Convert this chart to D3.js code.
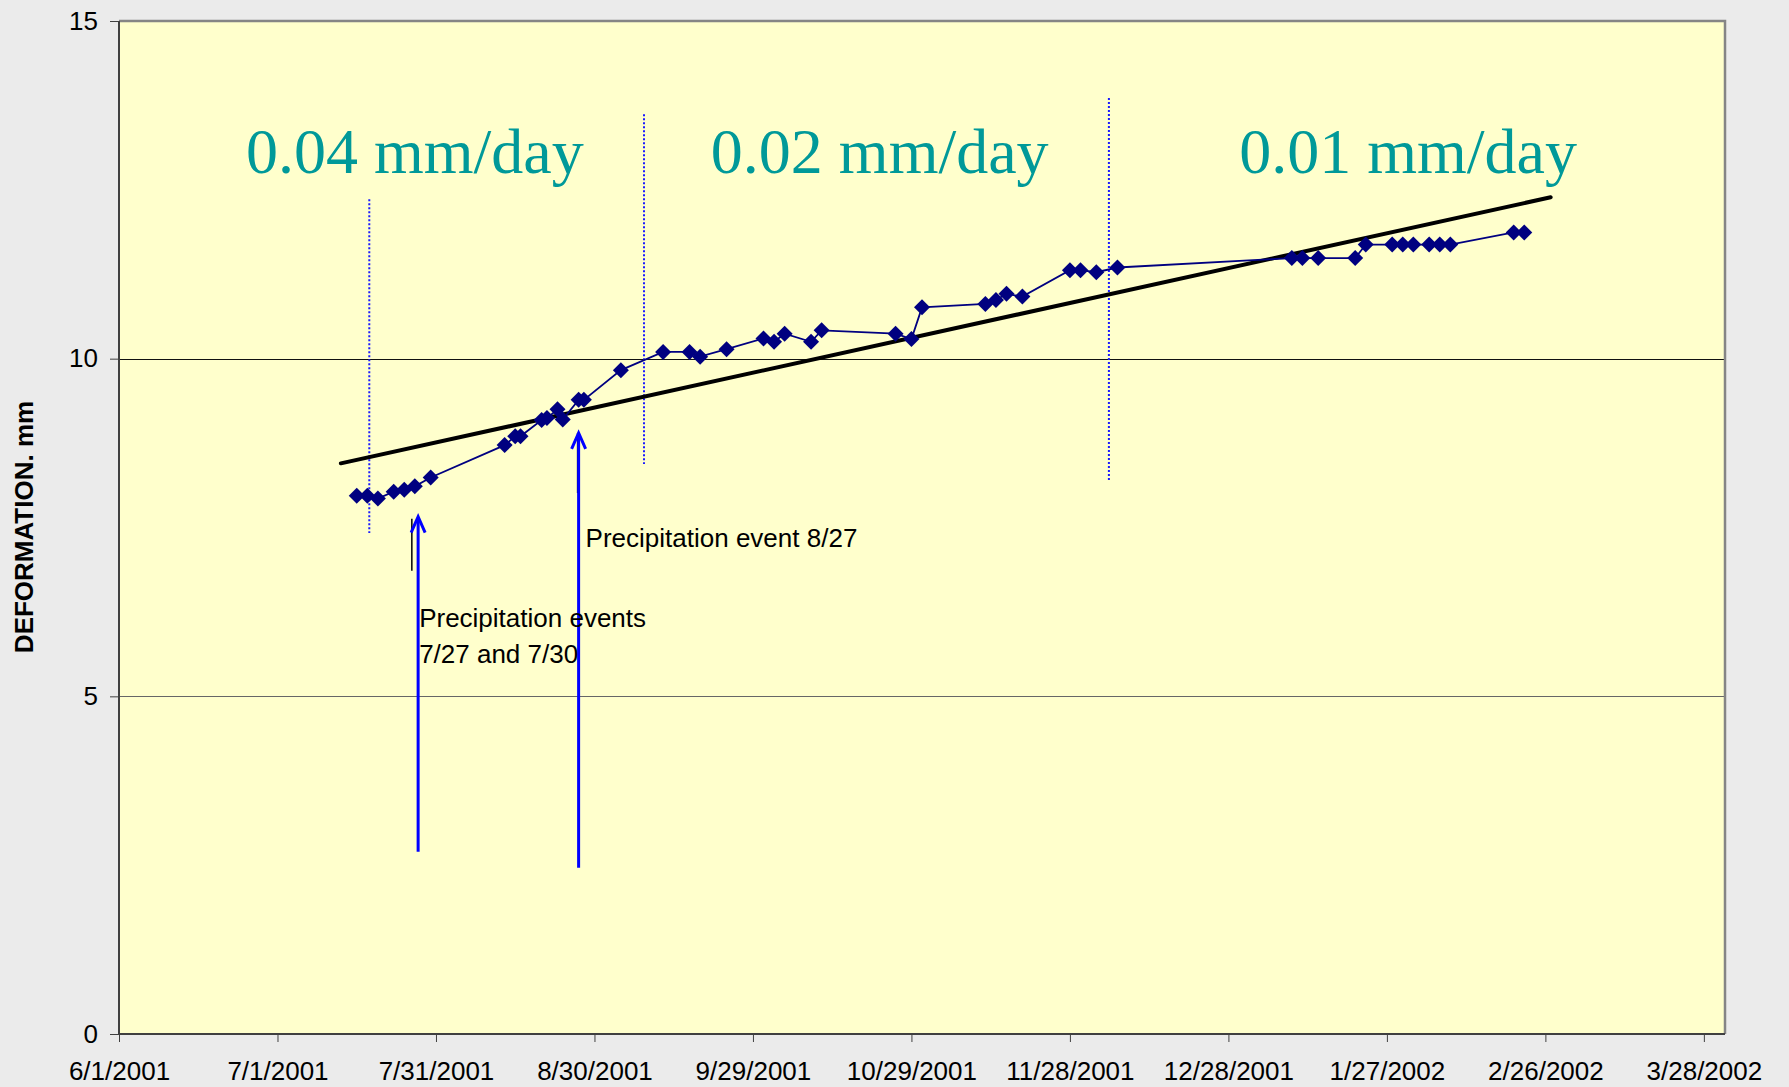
<!DOCTYPE html>
<html>
<head>
<meta charset="utf-8">
<script src="https://cdn.jsdelivr.net/npm/d3@7"></script>
<style>
  html, body { margin: 0; padding: 0; background: #ebebeb; }
  svg { display: block; }
  .tick text { font-family: "Liberation Sans", Arial, sans-serif; font-size: 26px; fill: #000; }
  .tick line { stroke: #404040; }
</style>
</head>
<body>
<svg width="1789" height="1087"></svg>
<script>
// Deformation readings
const dates = [
  "7/16/2001", "7/18/2001", "7/20/2001", "7/23/2001", "7/25/2001", "7/27/2001", "7/30/2001",
  "8/13/2001", "8/15/2001", "8/16/2001", "8/20/2001", "8/21/2001", "8/23/2001", "8/24/2001",
  "8/27/2001", "8/28/2001", "9/4/2001", "9/12/2001", "9/17/2001", "9/19/2001", "9/24/2001",
  "10/1/2001", "10/3/2001", "10/5/2001", "10/10/2001", "10/12/2001", "10/26/2001", "10/29/2001",
  "10/31/2001", "11/12/2001", "11/14/2001", "11/16/2001", "11/19/2001", "11/28/2001", "11/30/2001",
  "12/3/2001", "12/7/2001", "1/9/2002", "1/11/2002", "1/14/2002", "1/21/2002", "1/23/2002",
  "1/28/2002", "1/30/2002", "2/1/2002", "2/4/2002", "2/6/2002", "2/8/2002", "2/20/2002", "2/22/2002"
];
const values = [
  7.97, 7.97, 7.93, 8.03, 8.06, 8.11, 8.24,
  8.72, 8.85, 8.85, 9.09, 9.12, 9.25, 9.10,
  9.39, 9.39, 9.83, 10.10, 10.10, 10.03, 10.14,
  10.30, 10.25, 10.37, 10.25, 10.42, 10.37, 10.29,
  10.76, 10.81, 10.87, 10.96, 10.92, 11.31, 11.31,
  11.28, 11.35, 11.49, 11.49, 11.49, 11.49, 11.69,
  11.69, 11.69, 11.69, 11.69, 11.69, 11.69, 11.87, 11.87
];

// Linear trend (end points)
const trendDates = ["7/13/2001", "2/27/2002"];
const trendValues = [8.45, 12.39];

// Axis ticks
const xTickLabels = ["6/1/2001", "7/1/2001", "7/31/2001", "8/30/2001", "9/29/2001", "10/29/2001",
  "11/28/2001", "12/28/2001", "1/27/2002", "2/26/2002", "3/28/2002"];
const yTicks = [0, 5, 10, 15];
const xDomain = ["6/1/2001", "4/1/2002"];

// Rate periods
const rateLabels = ["0.04 mm/day", "0.02 mm/day", "0.01 mm/day"];
const rateDates = ["7/27/2001", "10/23/2001", "1/31/2002"];
const rateLevel = 12.75;
const dividerDates = ["7/18/2001", "9/8/2001", "12/5/2001"];
const dividerTop = [12.36, 13.62, 13.86];
const dividerBottom = [7.42, 8.44, 8.18];

// Precipitation arrows
const arrowDates = ["7/28/2001", "8/27/2001"];
const arrowTop = [7.66, 8.90];
const arrowBottom = [2.70, 2.46];
const markDates = ["7/27/2001", "8/27/2001"];
const markTop = [7.63, 8.90];
const markBottom = [6.86, 8.01];
const noteLines = [["Precipitation events", "7/27 and 7/30"], ["Precipitation event 8/27"]];
const noteLevel = [6.03, 7.21];

const parse = d3.timeParse("%m/%d/%Y");

const svg = d3.select("svg");
const margin = { top: 21, right: 64, bottom: 53, left: 119 };
const width = +svg.attr("width") - margin.left - margin.right;
const height = +svg.attr("height") - margin.top - margin.bottom;
const g = svg.append("g").attr("transform", `translate(${margin.left}, ${margin.top})`);

const x = d3.scaleTime().domain(xDomain.map(parse)).range([0, width]);
const y = d3.scaleLinear().domain([0, 15]).range([height, 0]);

// Plot area
g.append("rect")
  .attr("width", width)
  .attr("height", height)
  .attr("fill", "#ffffcc");

// Gridlines
g.selectAll(".grid")
  .data([5, 10])
  .join("line")
  .attr("x1", 0)
  .attr("x2", width)
  .attr("y1", d => Math.round(y(d)) + 0.5)
  .attr("y2", d => Math.round(y(d)) + 0.5)
  .attr("stroke", d => d === 10 ? "#111" : "#666")
  .attr("stroke-width", 1);

// Frame: top and right in gray
g.append("path")
  .attr("d", `M0,0H${width}V${height}`)
  .attr("fill", "none")
  .attr("stroke", "#858585")
  .attr("stroke-width", 2.5);

// X-axis
const xAxis = d3.axisBottom(x)
  .tickValues(xTickLabels.map(parse))
  .tickFormat((d, i) => xTickLabels[i])
  .tickSize(8)
  .tickPadding(20);

g.append("g")
  .attr("transform", `translate(0, ${height})`)
  .call(xAxis)
  .call(a => a.select(".domain").remove());

// Y-axis
const yAxis = d3.axisLeft(y)
  .tickValues(yTicks)
  .tickSize(9)
  .tickPadding(12);

g.append("g")
  .call(yAxis)
  .call(a => a.select(".domain").remove());

g.append("path")
  .attr("d", `M0,0V${height}H${width}`)
  .attr("fill", "none")
  .attr("stroke", "#404040")
  .attr("stroke-width", 2);

// Y-axis label
svg.append("text")
  .attr("text-anchor", "middle")
  .attr("transform", "translate(33, 527) rotate(-90)")
  .attr("font-family", "Liberation Sans, Arial, sans-serif")
  .attr("font-weight", "bold")
  .attr("font-size", 26)
  .text("DEFORMATION. mm");

// Period dividers
g.selectAll(".divider")
  .data(dividerDates)
  .join("line")
  .attr("x1", d => x(parse(d)) + 2)
  .attr("x2", d => x(parse(d)) + 2)
  .attr("y1", (d, i) => y(dividerTop[i]))
  .attr("y2", (d, i) => y(dividerBottom[i]))
  .attr("stroke", "#1a1aff")
  .attr("stroke-width", 2)
  .attr("stroke-dasharray", "2,2");

// Rate labels
g.selectAll(".rate")
  .data(rateLabels)
  .join("text")
  .attr("x", (d, i) => x(parse(rateDates[i])))
  .attr("y", y(rateLevel))
  .attr("text-anchor", "middle")
  .attr("font-family", "Liberation Serif, Times New Roman, serif")
  .attr("font-size", 64)
  .attr("fill", "#009999")
  .text(d => d);

// Trend line
const trend = trendDates.map((d, i) => [parse(d), trendValues[i]]);
g.append("path")
  .datum(trend)
  .attr("fill", "none")
  .attr("stroke", "#000")
  .attr("stroke-width", 4)
  .attr("stroke-linecap", "round")
  .attr("d", d3.line().x(d => x(d[0])).y(d => y(d[1])));

// Data series
const series = dates.map((d, i) => [parse(d), values[i]]);
g.append("path")
  .datum(series)
  .attr("fill", "none")
  .attr("stroke", "#000080")
  .attr("stroke-width", 1.8)
  .attr("d", d3.line().x(d => x(d[0])).y(d => y(d[1])));

g.selectAll(".pt")
  .data(series)
  .join("path")
  .attr("transform", d => `translate(${x(d[0])}, ${y(d[1])}) rotate(45)`)
  .attr("d", d3.symbol(d3.symbolSquare, 128))
  .attr("fill", "#000080");

// Short black marks beside the arrows
g.selectAll(".mark")
  .data(markDates)
  .join("line")
  .attr("x1", (d, i) => x(parse(d)) - (i === 0 ? 3 : 1))
  .attr("x2", (d, i) => x(parse(d)) - (i === 0 ? 3 : 1))
  .attr("y1", (d, i) => y(markTop[i]))
  .attr("y2", (d, i) => y(markBottom[i]))
  .attr("stroke", "#000")
  .attr("stroke-width", 1.5);

// Precipitation arrows
const arrows = g.selectAll(".arrow")
  .data(arrowDates)
  .join("g")
  .attr("transform", (d, i) => `translate(${x(parse(d)) - (i === 0 ? 2 : 0)}, 0)`);

arrows.append("line")
  .attr("y1", (d, i) => y(arrowBottom[i]))
  .attr("y2", (d, i) => y(arrowTop[i]) + 2)
  .attr("stroke", "#0000ff")
  .attr("stroke-width", 3);

arrows.append("path")
  .attr("d", (d, i) => {
    const t = y(arrowTop[i]);
    return `M-7,${t + 16}L0,${t}L7,${t + 16}`;
  })
  .attr("fill", "none")
  .attr("stroke", "#0000ff")
  .attr("stroke-width", 3);

// Notes
const notes = g.selectAll(".note")
  .data(noteLines)
  .join("text")
  .attr("x", (d, i) => x(parse(arrowDates[i])) + (i === 0 ? -1 : 7))
  .attr("y", (d, i) => y(noteLevel[i]))
  .attr("font-family", "Liberation Sans, Arial, sans-serif")
  .attr("font-size", 26)
  .attr("fill", "#000");

notes.selectAll("tspan")
  .data(d => d)
  .join("tspan")
  .attr("x", function() { return d3.select(this.parentNode).attr("x"); })
  .attr("dy", (d, i) => i === 0 ? 0 : 36)
  .text(d => d);
</script>
</body>
</html>
